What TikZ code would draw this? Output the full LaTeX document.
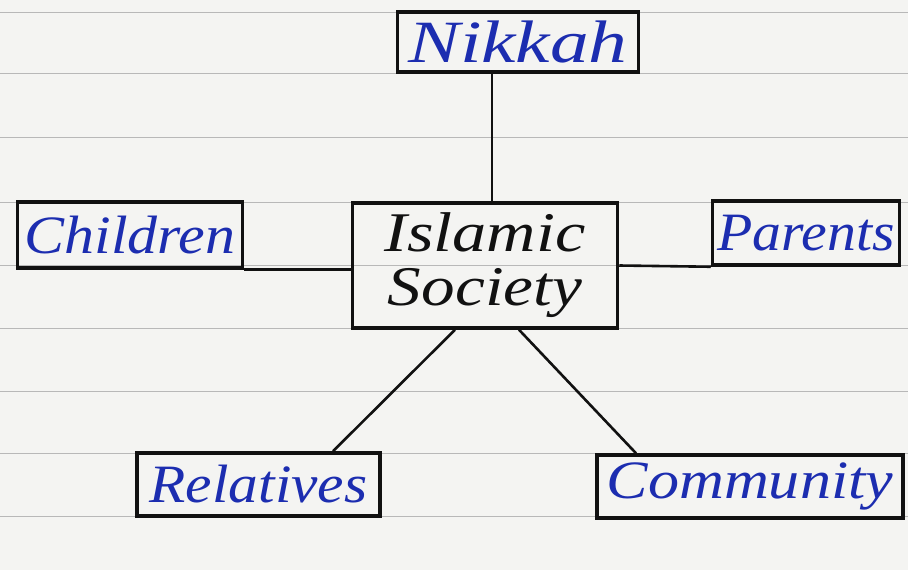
\documentclass[tikz,border=0pt]{standalone}
\usepackage{fontspec}
\setmainfont{Liberation Serif}
\definecolor{paper}{HTML}{F4F4F2}
\definecolor{rule}{HTML}{B8B8B8}
\definecolor{ink}{HTML}{1C2DB0}
\definecolor{pen}{HTML}{111111}
\newcommand\wide[2]{\scalebox{#1}[1]{#2}}
\tikzset{
  box/.style={draw=pen, line width=3.5pt, rectangle, inner sep=0pt, font=\fontsize{54}{58}\selectfont\itshape, text=ink},
  link/.style={draw=pen, line width=2.6pt},
  ruleline/.style={draw=rule, line width=0.9pt}
}
\begin{document}
\begin{tikzpicture}[x=1pt,y=-1pt]
\fill[paper] (0,0) rectangle (908,570);
\useasboundingbox (0,0) rectangle (908,570);
\foreach \y in {12,73,137,202,265,328,391,453,516} \draw[ruleline] (0,\y) -- (908,\y);

\node[box, minimum width=241pt, minimum height=60pt, font=\fontsize{60}{64}\selectfont\itshape] (nik) at (518,42) {\wide{1.29}{Nikkah}};
\node[box, minimum width=265pt, minimum height=125pt, text=pen, align=center, font=\fontsize{56}{54}\selectfont\itshape] (isl) at (485,265.5) {\wide{1.22}{Islamic}\\\wide{1.2}{Society}};
\node[box, minimum width=225pt, minimum height=66pt] (chi) at (130,235) {\wide{1.11}{Children}};
\node[box, minimum width=187pt, minimum height=64pt] (par) at (806,233) {\wide{1.07}{Parents}};
\node[box, minimum width=243pt, minimum height=63pt] (rel) at (258.5,484.5) {\wide{1.1}{Relatives}};
\node[box, minimum width=306pt, minimum height=63pt] (com) at (750,486.5) {\wide{1.15}{Community}};

\draw[link] (nik.south -| 492,0) -- (isl.north -| 492,0);
\draw[link] (chi.south east) -- (isl.west |- chi.south east);
\draw[link] (isl.east) -- (par.south west);
\draw[link] (isl.south -| 455,0) -- (rel.north -| 333,0);
\draw[link] (isl.south -| 519,0) -- (com.north -| 636,0);
\end{tikzpicture}
\end{document}
